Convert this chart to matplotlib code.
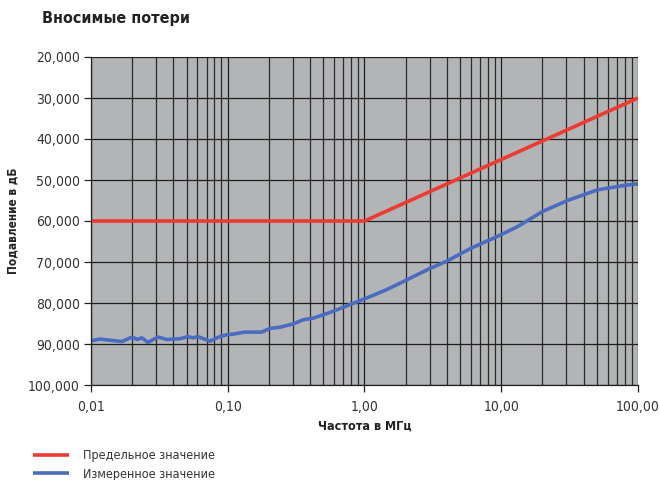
import matplotlib
matplotlib.use("Agg")
import matplotlib.pyplot as plt
from matplotlib.ticker import FixedLocator, FuncFormatter, NullFormatter, LogLocator

plt.rcParams['font.family'] = ['DejaVu Sans']
plt.rcParams['font.stretch'] = 'condensed'

# Limit line (dB)
limit_freq = [0.01, 1.0, 100.0]
limit_db = [60, 60, 30]

# Measured insertion loss (dB)
meas_freq = [0.0101, 0.0116, 0.0168, 0.0200, 0.0217, 0.0235, 0.0261, 0.0309,
             0.0358, 0.0448, 0.0512, 0.0557, 0.0606, 0.0741, 0.0874, 0.100,
             0.109, 0.133, 0.177, 0.204, 0.241, 0.301, 0.356, 0.421, 0.561,
             1.00, 1.44, 1.97, 3.00, 3.99, 5.96, 7.05, 9.33, 13.1, 20.0,
             30.5, 50.6, 70.6, 93.2, 100.0]
meas_db = [89.2, 88.8, 89.4, 88.3, 88.9, 88.5, 89.6, 88.3,
           88.9, 88.7, 88.2, 88.5, 88.2, 89.3, 88.2, 87.7,
           87.6, 87.1, 87.1, 86.2, 85.9, 85.1, 84.1, 83.7, 82.3,
           79.0, 76.8, 74.6, 71.6, 69.8, 66.7, 65.6, 63.8, 61.4, 57.7,
           55.0, 52.4, 51.6, 51.0, 51.0]

y_ticks = [20, 30, 40, 50, 60, 70, 80, 90, 100]
x_ticks = [0.01, 0.1, 1, 10, 100]
x_tick_labels = ["0,01", "0,10", "1,00", "10,00", "100,00"]

fig = plt.figure(figsize=(6.6, 4.8), dpi=100)
ax = fig.add_axes([91/660, 1 - 385/480, (638 - 91)/660, (385 - 57)/480])
ax.set_facecolor('#b3b4b6')

ax.set_xscale('log')
ax.set_xlim(0.01, 100)
ax.set_ylim(100, 20)

ax.xaxis.set_major_locator(FixedLocator(x_ticks))
ax.set_xticklabels(x_tick_labels)
ax.xaxis.set_minor_locator(LogLocator(base=10, subs=range(2, 10)))
ax.xaxis.set_minor_formatter(NullFormatter())
ax.yaxis.set_major_locator(FixedLocator(y_ticks))
ax.yaxis.set_major_formatter(FuncFormatter(lambda v, p: f"{v:.3f}".replace('.', ',')))

ax.grid(True, which='major', axis='both', color='#1e1e1e', linewidth=0.9)
ax.grid(True, which='minor', axis='x', color='#2a2a2a', linewidth=0.9)
ax.set_axisbelow(True)

ax.tick_params(axis='both', which='major', direction='out', length=5, width=0.9,
               color='#222222', labelsize=10, labelcolor='#333333', pad=3)
ax.tick_params(axis='x', which='minor', length=0)
ax.tick_params(axis='x', which='major', pad=6)

for side in ['top', 'right']:
    ax.spines[side].set_visible(False)
for side in ['left', 'bottom']:
    ax.spines[side].set_color('#222222')
    ax.spines[side].set_linewidth(0.9)

l1, = ax.plot(limit_freq, limit_db, color='#ee3a30', linewidth=2.6, solid_capstyle='butt',
              label='Предельное значение')
l2, = ax.plot(meas_freq, meas_db, color='#4a6cc0', linewidth=2.6, solid_capstyle='butt',
              label='Измеренное значение')

fig.text(42/660, 1 - 18/480, 'Вносимые потери', fontsize=11.5, fontweight='bold',
         va='center', ha='left', color='#222222')
ax.set_xlabel('Частота в МГц', fontsize=9, fontweight='bold', color='#222222', labelpad=4)
ax.set_ylabel('Подавление в дБ', fontsize=8.5, fontweight='bold', color='#222222', labelpad=6)

fig.legend(handles=[l1, l2], loc='upper left', bbox_to_anchor=(33/660, 1 - 449/480),
           frameon=False, fontsize=9, handlelength=2.9, handletextpad=1.1,
           labelspacing=0.45, borderpad=0, borderaxespad=0, labelcolor='#333333')

fig.savefig('out.png', dpi=100)
